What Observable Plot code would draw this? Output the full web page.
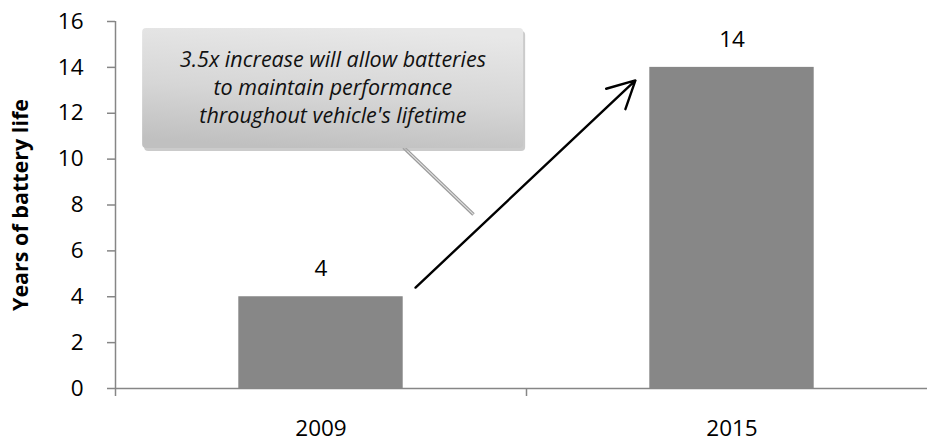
<!DOCTYPE html>
<html>
<head>
<meta charset="utf-8">
<script src="https://cdn.jsdelivr.net/npm/d3@7"></script>
<script src="https://cdn.jsdelivr.net/npm/@observablehq/plot@0.6"></script>
<style>
  html, body { margin: 0; padding: 0; background: #ffffff; }
  #chart svg { display: block; }
</style>
</head>
<body>
<div id="chart"></div>
<script>
// ---- data ----
const years = ["2009", "2015"];
const batteryLife = [4, 14];
const yTicks = [0, 2, 4, 6, 8, 10, 12, 14, 16];
const yTitle = "Years of battery life";
const calloutLines = [
  "3.5x increase will allow batteries",
  "to maintain performance",
  "throughout vehicle's lifetime"
];
// annotation anchors, in data units (x = category index position, y = years)
const calloutBox = {x1: 0.066, x2: 0.993, y1: 10.46, y2: 15.69};
const calloutTextAt = {x: 0.529, y: 13.2};
const calloutTail = {x1: 0.701, y1: 10.51, x2: 0.871, y2: 7.59};
const growthArrow = {x1: 0.730, y1: 4.40, x2: 1.265, y2: 13.43};

const table = years.map((year, i) => ({year, value: batteryLife[i], index: i}));
const barGap = 0.3;
const axisGray = "#868686";
const font = "'Open Sans', Lato, sans-serif";
const labelSize = 22.5;

const chart = Plot.plot({
  width: 927,
  height: 442,
  marginLeft: 115,
  marginRight: -10,
  marginTop: 21,
  marginBottom: 54,
  style: {fontFamily: font, fontSize: `${labelSize}px`, color: "#000", background: "#fff", overflow: "hidden"},
  x: {domain: [0, years.length], axis: null},
  y: {domain: [0, 16], axis: null},
  marks: [
    // bars
    Plot.rectY(table, {
      x1: d => d.index + barGap,
      x2: d => d.index + 1 - barGap,
      y: "value",
      fill: "#878787"
    }),
    // axes
    Plot.axisY({ticks: yTicks, tickSize: 8, tickPadding: 24, stroke: axisGray, strokeWidth: 1.5, fill: "#000", fontSize: labelSize, label: null}),
    Plot.ruleX([0], {y1: 0, y2: 16, stroke: axisGray, strokeWidth: 1.5}),
    Plot.ruleY([0], {stroke: axisGray, strokeWidth: 1.5}),
    Plot.axisX({ticks: [0, 1, 2], tickSize: 8, tickFormat: () => "", stroke: axisGray, strokeWidth: 1.5, label: null}),
    Plot.axisX({ticks: years.map((y, i) => i + 0.5), tickFormat: d => years[Math.floor(d)], tickSize: 0, tickPadding: 32, fill: "#000", fontSize: labelSize, label: null}),
    // y axis title
    Plot.text([yTitle], {frameAnchor: "left", textAnchor: "middle", dx: -94, rotate: -90, fontWeight: "bold", fontSize: 21.5, fill: "#000"}),
    // value labels
    Plot.text(table, {x: d => d.index + 0.5, y: "value", text: d => String(d.value), dy: -28, fontSize: labelSize, fill: "#000"}),
    // callout
    Plot.link([calloutTail], {x1: "x1", y1: "y1", x2: "x2", y2: "y2", stroke: "#9a9a9a", strokeWidth: 3.5}),
    Plot.link([calloutTail], {x1: "x1", y1: "y1", x2: "x2", y2: "y2", stroke: "#e2e2e2", strokeWidth: 1.2}),
    Plot.rect([calloutBox], {x1: "x1", x2: "x2", y1: "y1", y2: "y2", dx: 2, dy: 3, rx: 4, fill: "#a8a8a8", fillOpacity: 0.6}),
    Plot.rect([calloutBox], {x1: "x1", x2: "x2", y1: "y1", y2: "y2", rx: 4, fill: "url(#calloutFill)"}),
    Plot.text([calloutLines.join("\n")], {x: calloutTextAt.x, y: calloutTextAt.y, fontStyle: "italic", fontSize: 21.5, lineHeight: 1.3, fill: "#111"}),
    // arrow
    Plot.arrow([growthArrow], {x1: "x1", y1: "y1", x2: "x2", y2: "y2", stroke: "#000", strokeWidth: 2.4, headLength: 19, headAngle: 55})
  ]
});

// gradient for the callout box
const ns = "http://www.w3.org/2000/svg";
const defs = document.createElementNS(ns, "defs");
const grad = document.createElementNS(ns, "linearGradient");
grad.setAttribute("id", "calloutFill");
grad.setAttribute("x1", "0.6"); grad.setAttribute("y1", "0");
grad.setAttribute("x2", "0.4"); grad.setAttribute("y2", "1");
[["0", "#e8e8e8"], ["0.55", "#d6d6d6"], ["1", "#c0c0c0"]].forEach(([o, c]) => {
  const s = document.createElementNS(ns, "stop");
  s.setAttribute("offset", o); s.setAttribute("stop-color", c);
  grad.appendChild(s);
});
defs.appendChild(grad);
chart.insertBefore(defs, chart.firstChild);

document.getElementById("chart").appendChild(chart);
</script>
</body>
</html>
